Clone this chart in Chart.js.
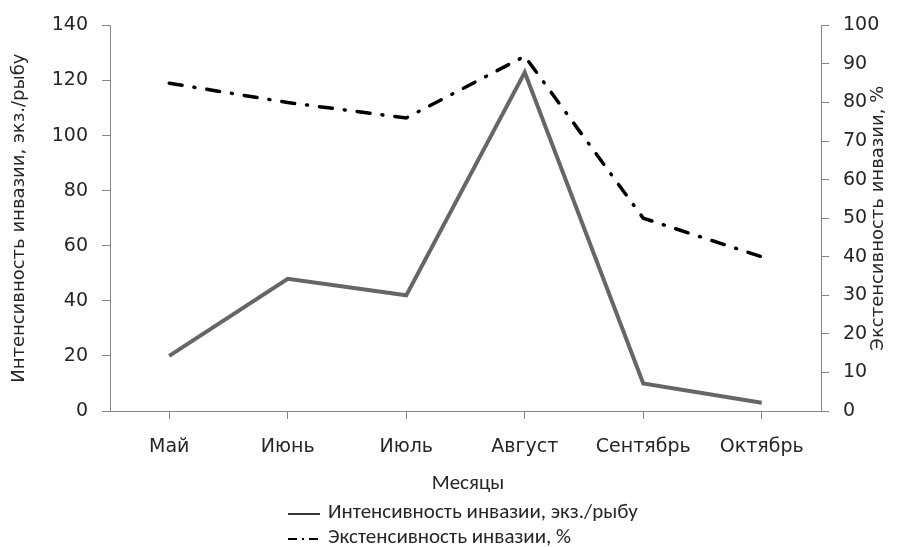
<!DOCTYPE html>
<html>
<head>
<meta charset="utf-8">
<script src="https://cdn.jsdelivr.net/npm/chart.js@4"></script>
<style>
  html, body { margin: 0; padding: 0; background: #fff; }
  #wrap { width: 899px; height: 547px; position: relative; }
</style>
</head>
<body>
<div id="wrap"><canvas id="chart"></canvas></div>
<script>
// Data
const months = ['Май', 'Июнь', 'Июль', 'Август', 'Сентябрь', 'Октябрь'];
const intensity = [20, 48, 42, 123, 10, 3];      // экз./рыбу, left axis
const extensity = [85, 80, 76, 92, 50, 40];      // %, right axis
const leftTicks = [0, 20, 40, 60, 80, 100, 120, 140];
const rightTicks = [0, 10, 20, 30, 40, 50, 60, 70, 80, 90, 100];

const labelIntensity = 'Интенсивность инвазии, экз./рыбу';
const labelExtensity = 'Экстенсивность инвазии, %';
const xTitle = 'Месяцы';

const tickFont = { family: '"DejaVu Sans", sans-serif', size: 19 };
const axisColor = '#868686';
const textColor = '#262626';
const solidColor = '#666666';
const dashPattern = [13, 12, 1, 12];

// titles and legend drawn by hand so they sit where the reference has them
const extrasPlugin = {
  id: 'extras',
  afterDraw(chart) {
    const ctx = chart.ctx;
    const area = chart.chartArea;
    const midY = (area.top + area.bottom) / 2;
    ctx.save();
    ctx.fillStyle = textColor;
    ctx.textAlign = 'center';
    ctx.textBaseline = 'middle';
    ctx.font = '18px "DejaVu Sans", sans-serif';

    // left axis title
    ctx.save();
    ctx.translate(19, midY);
    ctx.rotate(-Math.PI / 2);
    ctx.fillText(labelIntensity, 0, 0);
    ctx.restore();

    // right axis title (reads bottom to top as in the reference)
    ctx.save();
    ctx.translate(878, midY);
    ctx.rotate(-Math.PI / 2);
    ctx.fillText(labelExtensity, 0, 0);
    ctx.restore();

    // x axis title and legend in a Calibri-like face
    ctx.font = '21px Carlito, Lato, sans-serif';
    ctx.fillText(xTitle, 468, 484);

    ctx.textAlign = 'left';
    ctx.fillText(labelIntensity, 328, 513);
    ctx.fillText(labelExtensity, 328, 538);

    ctx.lineWidth = 2;
    ctx.strokeStyle = '#3a3a3a';
    ctx.beginPath();
    ctx.moveTo(288, 514);
    ctx.lineTo(320, 514);
    ctx.stroke();

    ctx.strokeStyle = '#000';
    ctx.setLineDash([9, 5, 2, 5]);
    ctx.beginPath();
    ctx.moveTo(288, 539);
    ctx.lineTo(320, 539);
    ctx.stroke();
    ctx.restore();
  }
};

function drawChart() {
  new Chart(document.getElementById('chart'), {
    type: 'line',
    data: {
      labels: months,
      datasets: [
        {
          label: labelExtensity,
          data: extensity,
          yAxisID: 'y2',
          borderColor: '#000',
          borderWidth: 3.5,
          borderDash: dashPattern,
          borderCapStyle: 'round',
          pointRadius: 0,
          tension: 0,
          fill: false
        },
        {
          label: labelIntensity,
          data: intensity,
          yAxisID: 'y',
          borderColor: solidColor,
          borderWidth: 4,
          borderJoinStyle: 'miter',
          pointRadius: 0,
          tension: 0,
          fill: false
        }
      ]
    },
    options: {
      responsive: true,
      maintainAspectRatio: false,
      animation: false,
      layout: { padding: { top: 21, bottom: 55, left: 0, right: 0 } },
      plugins: {
        legend: { display: false },
        tooltip: { enabled: false }
      },
      scales: {
        x: {
          offset: true,
          grid: {
            display: true,
            drawOnChartArea: false,
            tickLength: 8,
            color: axisColor,
            offset: false
          },
          border: { color: axisColor, width: 1 },
          ticks: { font: tickFont, color: textColor, padding: 17, maxRotation: 0 },
          afterFit(scale) { scale.height = 81; }
        },
        y: {
          position: 'left',
          min: 0,
          max: 140,
          afterBuildTicks(scale) { scale.ticks = leftTicks.map(v => ({ value: v })); },
          grid: { drawOnChartArea: false, tickLength: 8, color: axisColor },
          border: { color: axisColor, width: 1 },
          ticks: { font: tickFont, color: textColor, padding: 14 },
          afterFit(scale) { scale.width = 110; }
        },
        y2: {
          position: 'right',
          min: 0,
          max: 100,
          afterBuildTicks(scale) { scale.ticks = rightTicks.map(v => ({ value: v })); },
          grid: { drawOnChartArea: false, tickLength: 8, color: axisColor },
          border: { color: axisColor, width: 1 },
          ticks: { font: tickFont, color: textColor, padding: 14 },
          afterFit(scale) { scale.width = 78; }
        }
      }
    },
    plugins: [extrasPlugin]
  });
}

Promise.all([
  document.fonts.load('19px "DejaVu Sans"'),
  document.fonts.load('21px Carlito')
]).then(drawChart, drawChart);
</script>
</body>
</html>
